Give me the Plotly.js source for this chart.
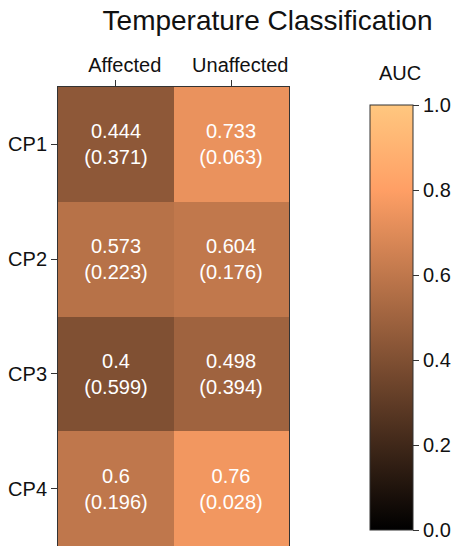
<!DOCTYPE html>
<html>
<head>
<meta charset="utf-8">
<script src="https://cdn.plot.ly/plotly-3.0.1.min.js"></script>
<style>html,body{margin:0;padding:0;background:#fff;}#chart{width:455px;height:546px;}</style>
</head>
<body>
<div id="chart"></div>
<script>
const columns = ["Affected", "Unaffected"];
const rows = ["CP1", "CP2", "CP3", "CP4"];
const auc = [
  [0.444, 0.733],
  [0.573, 0.604],
  [0.4, 0.498],
  [0.6, 0.76]
];
const pvals = [
  ["0.371", "0.063"],
  ["0.223", "0.176"],
  ["0.599", "0.394"],
  ["0.196", "0.028"]
];
const colorbarTicks = [0, 0.2, 0.4, 0.6, 0.8, 1.0];

const cellText = auc.map((r, i) => r.map((v, j) => v + "<br>(" + pvals[i][j] + ")"));

// matplotlib "copper" colormap
const copper = [
  [0, "rgb(0,0,0)"],
  [0.8, "rgb(255,159,101)"],
  [1, "rgb(255,199,127)"]
];

const FONT = "Liberation Sans, Arial, Helvetica, sans-serif";

const trace = {
  type: "heatmap",
  z: auc,
  x: columns,
  y: rows,
  text: cellText,
  texttemplate: "%{text}",
  textfont: {color: "white", size: 20, family: FONT},
  colorscale: copper,
  zmin: 0, zmax: 1,
  xgap: 0, ygap: 0,
  hoverinfo: "skip",
  colorbar: {
    tickvals: colorbarTicks,
    ticktext: colorbarTicks.map(v => v.toFixed(1)),
    tickfont: {size: 20, family: FONT, color: "#111"},
    ticks: "outside", ticklen: 6, tickcolor: "#333",
    thickness: 43, thicknessmode: "pixels",
    len: 425, lenmode: "pixels",
    x: 1.3506, xanchor: "left", xref: "paper",
    y: 0.4978, yanchor: "middle",
    xpad: 0, ypad: 0,
    outlinewidth: 1, outlinecolor: "#333"
  }
};

const layout = {
  width: 455, height: 546,
  margin: {l: 58, r: 166, t: 87, b: 0},
  paper_bgcolor: "white", plot_bgcolor: "white",
  font: {family: FONT, color: "#111"},
  title: {
    text: "Temperature Classification",
    font: {size: 28, family: FONT, color: "#111"},
    x: 0.588, xanchor: "center", xref: "container",
    y: 0.963, yanchor: "middle", yref: "container"
  },
  xaxis: {
    side: "top",
    tickfont: {size: 20, family: FONT, color: "#111"},
    ticks: "outside", ticklen: 6, tickcolor: "#333",
    ticklabelshift: 9,
    showline: true, mirror: true, linecolor: "#333", linewidth: 1,
    showgrid: false, zeroline: false
  },
  yaxis: {
    autorange: "reversed",
    tickfont: {size: 20, family: FONT, color: "#111"},
    ticks: "outside", ticklen: 6, tickcolor: "#333",
    showline: true, mirror: true, linecolor: "#333", linewidth: 1,
    showgrid: false, zeroline: false
  },
  annotations: [{
    text: "AUC",
    xref: "paper", yref: "paper",
    x: (400 - 58) / 231, y: (546 - 73) / 459,
    xanchor: "center", yanchor: "middle",
    showarrow: false,
    font: {size: 20, family: FONT, color: "#111"}
  }]
};

Plotly.newPlot("chart", [trace], layout, {staticPlot: true, displayModeBar: false});
</script>
</body>
</html>
